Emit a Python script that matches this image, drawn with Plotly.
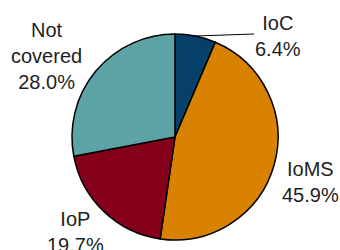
import plotly.graph_objects as go

labels = ["IoC", "IoMS", "IoP", "Not covered"]
values = [6.4, 45.9, 19.7, 28.0]
label_text = ["IoC<br>6.4%", "IoMS<br>45.9%", "IoP<br>19.7%", "Not<br>covered<br>28.0%"]
colors = ["#05406b", "#d98200", "#85001a", "#5ba3a5"]

W, H = 340, 250
cx, cy, r = 175, 137, 103

fig = go.Figure(go.Pie(
    labels=labels, values=values, sort=False, direction="clockwise", rotation=0,
    marker=dict(colors=colors, line=dict(color="black", width=1.5)),
    textinfo="none", hoverinfo="skip", showlegend=False,
    domain=dict(x=[(cx - r) / W, (cx + r) / W], y=[1 - (cy + r) / H, 1 - (cy - r) / H]),
))

label_pos = [(278, 36), (310, 182), (75, 232), (46, 56)]
for txt, (px, py) in zip(label_text, label_pos):
    fig.add_annotation(text=txt, x=px / W, y=1 - py / H, xref="paper", yref="paper",
                       showarrow=False, xanchor="center", yanchor="middle",
                       font=dict(family="Liberation Sans, Arial", size=20, color="#1e1e1e"))

fig.add_shape(type="line", xref="paper", yref="paper",
              x0=195 / W, y0=1 - 36 / H, x1=254 / W, y1=1 - 34 / H,
              line=dict(color="black", width=1))

fig.update_layout(width=W, height=H, margin=dict(l=0, r=0, t=0, b=0),
                  paper_bgcolor="white", plot_bgcolor="white")
fig.write_html("out.html", config={"displayModeBar": False},
               post_script="document.body.style.margin='0';document.body.style.overflow='hidden';")
